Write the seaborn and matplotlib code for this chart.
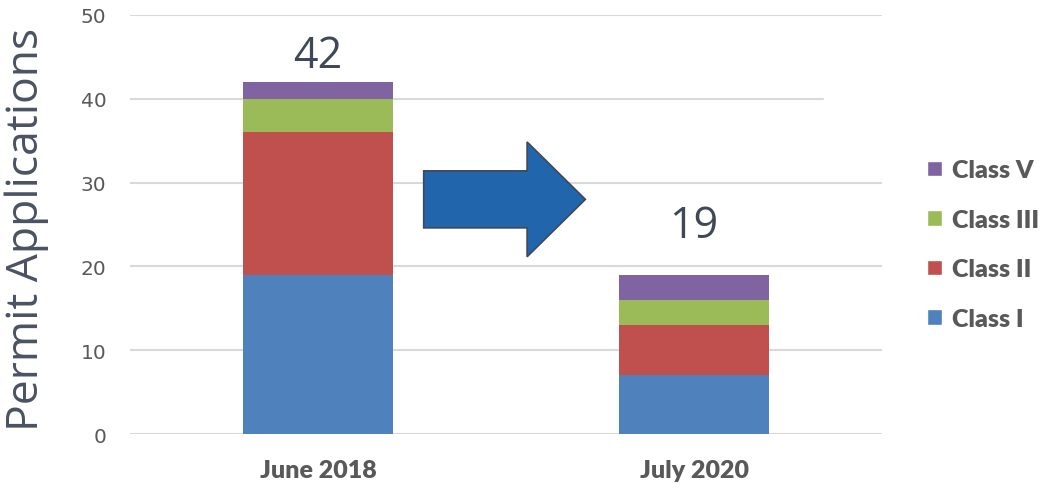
import pandas as pd
import seaborn as sns
import matplotlib.pyplot as plt
from matplotlib.patches import Patch, FancyArrow

# Data
periods = ['June 2018', 'July 2020']
class_i = [19, 7]
class_ii = [17, 6]
class_iii = [4, 3]
class_v = [2, 3]
totals = [42, 19]

layers = ['Class I', 'Class II', 'Class III', 'Class V']
class_colors = {
    'Class I': '#4f81bd',
    'Class II': '#c0504d',
    'Class III': '#9bbb59',
    'Class V': '#8064a2',
}

df = pd.DataFrame({'period': periods, 'Class I': class_i, 'Class II': class_ii,
                   'Class III': class_iii, 'Class V': class_v})
# cumulative heights for stacking
cum = df[layers].cumsum(axis=1)
cum['period'] = df['period']

sns.set_style('white')
fig = plt.figure(figsize=(10.42, 4.89), dpi=100)
ax = fig.add_axes([0.1248, 0.1104, 0.7217, 0.8569])

# draw tallest layer first so the shorter ones sit on top
for layer in reversed(layers):
    sns.barplot(data=cum, x='period', y=layer, color=class_colors[layer],
                width=0.4, saturation=1, ax=ax, zorder=3, order=periods,
                linewidth=0, edgecolor='none')

ax.set_xlim(-0.5, 1.5)
ax.set_ylim(0, 50)
ax.set_yticks(range(0, 51, 10))

# light gridlines (the 40 line stops short in the original)
for y in range(0, 51, 10):
    xmax = 0.921 if y == 40 else 1.0
    ax.axhline(y, xmin=0, xmax=xmax, color='#d9d9d9', lw=1.5, zorder=1)

for s in ax.spines.values():
    s.set_visible(False)

ax.tick_params(axis='y', length=0, pad=17, labelsize=14.5, labelcolor='#595959')
ax.tick_params(axis='x', length=0, pad=18, labelsize=18, labelcolor='#595959')
for t in ax.get_xticklabels():
    t.set_fontfamily('Lato')
    t.set_fontweight('heavy')
for t in ax.get_yticklabels():
    t.set_fontfamily('DejaVu Sans')

ax.set_xlabel('')
ax.set_ylabel('Permit Applications', fontsize=32, color='#4a5263',
              fontfamily='Open Sans')
ax.yaxis.set_label_coords(-0.108, 0.49)

# totals above the bars
pads = [3, 19]
for i, (tot, pad) in enumerate(zip(totals, pads)):
    ax.annotate(str(tot), (i, tot), xytext=(0, pad), textcoords='offset points',
                ha='center', va='bottom', fontsize=31, color='#404858',
                fontfamily='Open Sans')

# arrow between the two bars
arrow = FancyArrow(0.281, 28.0, 0.43, 0, width=6.8, head_width=13.7,
                   head_length=0.155, length_includes_head=True,
                   facecolor='#2166ac', edgecolor='#404858', lw=1.2, zorder=4)
ax.add_patch(arrow)

handles = [Patch(facecolor=class_colors[c], label=c) for c in reversed(layers)]
leg = ax.legend(handles=handles, loc='center left', bbox_to_anchor=(1.03, 0.452),
                frameon=False, handlelength=0.6, handleheight=0.6,
                handletextpad=0.4, labelspacing=1.1,
                prop={'family': 'Lato', 'weight': 'heavy', 'size': 18})
for t in leg.get_texts():
    t.set_color('#595959')

plt.savefig('out.png', dpi=100)
